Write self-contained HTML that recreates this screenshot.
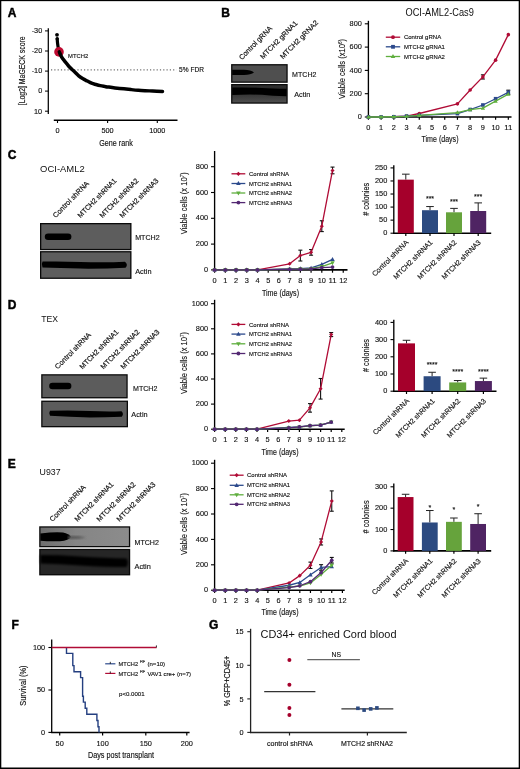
<!DOCTYPE html>
<html><head><meta charset="utf-8"><style>
html,body{margin:0;padding:0;background:#fff;width:520px;height:769px;overflow:hidden}
svg{display:block;font-family:"Liberation Sans", sans-serif;will-change:transform}
</style></head><body>
<svg width="520" height="769" viewBox="0 0 520 769">
<defs><filter id="bl" x="-5%" y="-20%" width="110%" height="140%"><feGaussianBlur stdDeviation="0.55"/></filter><filter id="bl2" x="-5%" y="-20%" width="110%" height="140%"><feGaussianBlur stdDeviation="0.9"/></filter></defs>
<rect x="0" y="0" width="520" height="769" fill="#fff"/>
<text x="7.8" y="17" font-size="12" fill="#000" font-weight="bold" stroke="#000" stroke-width="0.45">A</text>
<text x="221.2" y="17" font-size="12" fill="#000" font-weight="bold" stroke="#000" stroke-width="0.45">B</text>
<text x="7.8" y="159" font-size="12" fill="#000" font-weight="bold" stroke="#000" stroke-width="0.45">C</text>
<text x="7.8" y="308.7" font-size="12" fill="#000" font-weight="bold" stroke="#000" stroke-width="0.45">D</text>
<text x="7.8" y="468.2" font-size="12" fill="#000" font-weight="bold" stroke="#000" stroke-width="0.45">E</text>
<text x="11.5" y="629.2" font-size="12" fill="#000" font-weight="bold" stroke="#000" stroke-width="0.45">F</text>
<text x="209" y="629.3" font-size="12" fill="#000" font-weight="bold" stroke="#000" stroke-width="0.45">G</text>
<line x1="48.3" y1="28.2" x2="48.3" y2="113.9" stroke="#000" stroke-width="1.25"/>
<line x1="45" y1="30.9" x2="48.3" y2="30.9" stroke="#000" stroke-width="1"/>
<text x="42.2" y="33.2" font-size="7.3" text-anchor="end" fill="#111" stroke="#111" stroke-width="0.14">-30</text>
<line x1="45" y1="51" x2="48.3" y2="51" stroke="#000" stroke-width="1"/>
<text x="42.2" y="53.3" font-size="7.3" text-anchor="end" fill="#111" stroke="#111" stroke-width="0.14">-20</text>
<line x1="45" y1="71.1" x2="48.3" y2="71.1" stroke="#000" stroke-width="1"/>
<text x="42.2" y="73.4" font-size="7.3" text-anchor="end" fill="#111" stroke="#111" stroke-width="0.14">-10</text>
<line x1="45" y1="91.1" x2="48.3" y2="91.1" stroke="#000" stroke-width="1"/>
<text x="42.2" y="93.4" font-size="7.3" text-anchor="end" fill="#111" stroke="#111" stroke-width="0.14">0</text>
<line x1="45" y1="111.2" x2="48.3" y2="111.2" stroke="#000" stroke-width="1"/>
<text x="42.2" y="113.5" font-size="7.3" text-anchor="end" fill="#111" stroke="#111" stroke-width="0.14">10</text>
<text x="25.3" y="70.8" font-size="8.4" text-anchor="middle" fill="#111" transform="rotate(-90 25.3 70.8)" textLength="69" lengthAdjust="spacingAndGlyphs" stroke="#111" stroke-width="0.14">[Log2] MaGECK score</text>
<line x1="53.8" y1="120.2" x2="177.5" y2="120.2" stroke="#000" stroke-width="1.4"/>
<line x1="57.5" y1="120.2" x2="57.5" y2="123" stroke="#000" stroke-width="1.1"/>
<text x="57.5" y="133" font-size="7.3" text-anchor="middle" fill="#111" stroke="#111" stroke-width="0.14">0</text>
<line x1="107.6" y1="120.2" x2="107.6" y2="123" stroke="#000" stroke-width="1.1"/>
<text x="107.6" y="133" font-size="7.3" text-anchor="middle" fill="#111" stroke="#111" stroke-width="0.14">500</text>
<line x1="157.3" y1="120.2" x2="157.3" y2="123" stroke="#000" stroke-width="1.1"/>
<text x="157.3" y="133" font-size="7.3" text-anchor="middle" fill="#111" stroke="#111" stroke-width="0.14">1000</text>
<text x="116" y="145.6" font-size="8.6" text-anchor="middle" fill="#111" textLength="33.5" lengthAdjust="spacingAndGlyphs" stroke="#111" stroke-width="0.14">Gene rank</text>
<line x1="51" y1="69.8" x2="176.5" y2="69.8" stroke="#707070" stroke-width="1.2" stroke-dasharray="1.2 2.1"/>
<text x="179.1" y="71.9" font-size="6.7" fill="#111" textLength="24.9" lengthAdjust="spacingAndGlyphs" stroke="#111" stroke-width="0.14">5% FDR</text>
<path d="M57.2 39 C57.27 39.75 57.42 42 57.6 43.5 C57.78 45 58.02 46.6 58.3 48 C58.58 49.4 59.13 51.25 59.3 51.9" fill="none" stroke="#000" stroke-width="3.2" stroke-linecap="round" stroke-linejoin="round"/>
<circle cx="59" cy="51.9" r="4.8" fill="#bd0a30"/>
<path d="M59.3 51.9 C59.7 52.78 60.82 55.67 61.7 57.2 C62.58 58.73 63.63 59.87 64.6 61.1 C65.57 62.33 66.6 63.52 67.5 64.6 C68.4 65.68 68.87 66.45 70 67.6 C71.13 68.75 72.85 70.13 74.3 71.5 C75.75 72.87 77.25 74.58 78.7 75.8 C80.15 77.02 81.57 77.93 83 78.8 C84.43 79.67 85.87 80.27 87.3 81 C88.73 81.73 90.15 82.62 91.6 83.2 C93.05 83.78 94.55 84.1 96 84.5 C97.45 84.9 98.87 85.28 100.3 85.6 C101.73 85.92 103.17 86.15 104.6 86.4 C106.03 86.65 107.17 86.85 108.9 87.1 C110.63 87.35 112.5 87.62 115 87.9 C117.5 88.18 121.23 88.52 123.9 88.8 C126.57 89.08 128.6 89.35 131 89.6 C133.4 89.85 135.97 90.12 138.3 90.3 C140.63 90.48 142.6 90.58 145 90.7 C147.4 90.82 149.78 90.88 152.7 91 C155.62 91.12 160.87 91.33 162.5 91.4" fill="none" stroke="#000" stroke-width="3.5" stroke-linecap="round" stroke-linejoin="round"/>
<circle cx="57" cy="34.8" r="1.9" fill="#000"/>
<circle cx="57.2" cy="38.8" r="1.7" fill="#000"/>
<text x="68" y="57.5" font-size="6.1" fill="#111" textLength="20.2" lengthAdjust="spacingAndGlyphs" stroke="#111" stroke-width="0.14">MTCH2</text>
<defs><linearGradient id="gE" x1="0" x2="1" y1="0" y2="0"><stop offset="0" stop-color="#6e6e6e"/><stop offset="0.4" stop-color="#858585"/><stop offset="1" stop-color="#8c8c8c"/></linearGradient><linearGradient id="gBa" x1="0" x2="0" y1="0" y2="1"><stop offset="0" stop-color="#303030"/><stop offset="0.25" stop-color="#2a2a2a"/><stop offset="0.6" stop-color="#3a3a3a"/><stop offset="1" stop-color="#4e4e4e"/></linearGradient></defs>
<rect x="231.1" y="64.1" width="56.6" height="18.7" fill="#0a0a0a"/>
<rect x="232.4" y="65.4" width="54" height="16.1" fill="#4f4f4f"/>
<path d="M232.2 69.8 L244 69.8 Q251 70.2 254 72.4 Q251 74.6 244 75 L232.2 75 Z" fill="#050505" filter="url(#bl)"/>
<rect x="231.1" y="84" width="56.6" height="19.7" fill="#0a0a0a"/>
<rect x="232.4" y="85.3" width="54" height="17.1" fill="url(#gBa)"/>
<path d="M232.2 87.6 Q248 87.2 262 88 Q272 88.6 286.6 88.8 L286.6 96.2 Q272 96 262 94.8 Q248 94.3 232.2 95 Z" fill="#030303" filter="url(#bl)"/>
<text x="292.1" y="77.3" font-size="7.6" fill="#111" textLength="24.3" lengthAdjust="spacingAndGlyphs" stroke="#111" stroke-width="0.14">MTCH2</text>
<text x="294.3" y="96.9" font-size="7.6" fill="#111" textLength="16.1" lengthAdjust="spacingAndGlyphs" stroke="#111" stroke-width="0.14">Actin</text>
<text x="241.9" y="60.2" font-size="7.2" fill="#111" transform="rotate(-45.5 241.9 60.2)" textLength="43.8" lengthAdjust="spacingAndGlyphs" stroke="#111" stroke-width="0.18">Control gRNA</text>
<text x="263" y="59.4" font-size="7.2" fill="#111" transform="rotate(-45.5 263 59.4)" textLength="50" lengthAdjust="spacingAndGlyphs" stroke="#111" stroke-width="0.18">MTCH2 gRNA1</text>
<text x="283" y="59.4" font-size="7.2" fill="#111" transform="rotate(-45.5 283 59.4)" textLength="51" lengthAdjust="spacingAndGlyphs" stroke="#111" stroke-width="0.18">MTCH2 gRNA2</text>
<rect x="40" y="223" width="91.5" height="27.2" fill="#0a0a0a"/>
<rect x="41.3" y="224.3" width="88.9" height="24.6" fill="#5d5d5d"/>
<rect x="44.8" y="233.4" width="26.6" height="6.6" rx="3.3" fill="#050505" filter="url(#bl)"/>
<rect x="40" y="251.1" width="91.5" height="27.8" fill="#0a0a0a"/>
<rect x="41.3" y="252.4" width="88.9" height="25.2" fill="#5d5d5d"/>
<path d="M42.5 261.6 Q60 261 80 262 Q105 262.8 125 261.8 Q128.5 264.6 125.5 267.8 Q105 268.8 80 268.6 Q60 267.8 42.5 267.4 Q41 264.5 42.5 261.6 Z" fill="#050505" filter="url(#bl)"/>
<text x="135.2" y="240" font-size="7.2" fill="#111" textLength="24.4" lengthAdjust="spacingAndGlyphs" stroke="#111" stroke-width="0.14">MTCH2</text>
<text x="135.2" y="274" font-size="7.2" fill="#111" textLength="16.3" lengthAdjust="spacingAndGlyphs" stroke="#111" stroke-width="0.14">Actin</text>
<rect x="41.2" y="374.2" width="86.5" height="24.2" fill="#0a0a0a"/>
<rect x="42.5" y="375.5" width="83.9" height="21.6" fill="#5c5c5c"/>
<rect x="49.2" y="382.8" width="22.2" height="6.4" rx="3.2" fill="#050505" filter="url(#bl)"/>
<rect x="41.2" y="400.6" width="86.8" height="26.7" fill="#0a0a0a"/>
<rect x="42.5" y="401.9" width="84.2" height="24.1" fill="#5c5c5c"/>
<path d="M50 410.8 Q70 410 90 411 Q108 411.8 121.5 411.2 Q124.2 413.7 121.8 416.8 Q105 417.3 90 417.4 Q70 416.8 50 415.8 Q48.4 413.2 50 410.8 Z" fill="#050505" filter="url(#bl)"/>
<text x="133" y="390.7" font-size="7.2" fill="#111" textLength="24.4" lengthAdjust="spacingAndGlyphs" stroke="#111" stroke-width="0.14">MTCH2</text>
<text x="131.3" y="416.6" font-size="7.2" fill="#111" textLength="16.3" lengthAdjust="spacingAndGlyphs" stroke="#111" stroke-width="0.14">Actin</text>
<rect x="39.2" y="526.3" width="91" height="21" fill="#0a0a0a"/>
<rect x="40.5" y="527.6" width="88.4" height="18.4" fill="url(#gE)"/>
<path d="M40.4 533.5 Q55 531.8 63 532.6 Q69 534 71 537 Q69 540.5 60 541.2 Q50 541.6 40.4 540.8 Z" fill="#030303" filter="url(#bl)"/>
<path d="M68 536.2 Q78 535.8 86 537.4 Q78 539.2 68 539 Z" fill="#555" filter="url(#bl2)"/>
<rect x="39.2" y="548.8" width="91" height="26.6" fill="#0a0a0a"/>
<rect x="40.5" y="550.1" width="88.4" height="24" fill="#262626"/>
<path d="M40.4 555 Q60 555 80 556.4 Q105 558 126.5 558.5 Q129 562.5 126.5 567 Q105 567 80 565.5 Q60 563.8 40.4 563.5 Z" fill="#050505" filter="url(#bl2)"/>
<text x="134.5" y="544.5" font-size="7.2" fill="#111" textLength="24.4" lengthAdjust="spacingAndGlyphs" stroke="#111" stroke-width="0.14">MTCH2</text>
<text x="134.5" y="569" font-size="7.2" fill="#111" textLength="16.3" lengthAdjust="spacingAndGlyphs" stroke="#111" stroke-width="0.14">Actin</text>
<text x="55.8" y="218.2" font-size="7.2" fill="#111" transform="rotate(-45.5 55.8 218.2)" textLength="48" lengthAdjust="spacingAndGlyphs" stroke="#111" stroke-width="0.18">Control shRNA</text>
<text x="80.6" y="218.2" font-size="7.2" fill="#111" transform="rotate(-45.5 80.6 218.2)" textLength="52" lengthAdjust="spacingAndGlyphs" stroke="#111" stroke-width="0.18">MTCH2 shRNA1</text>
<text x="102.6" y="218.2" font-size="7.2" fill="#111" transform="rotate(-45.5 102.6 218.2)" textLength="52" lengthAdjust="spacingAndGlyphs" stroke="#111" stroke-width="0.18">MTCH2 shRNA2</text>
<text x="122.6" y="218.2" font-size="7.2" fill="#111" transform="rotate(-45.5 122.6 218.2)" textLength="52" lengthAdjust="spacingAndGlyphs" stroke="#111" stroke-width="0.18">MTCH2 shRNA3</text>
<text x="57.8" y="369.5" font-size="7.2" fill="#111" transform="rotate(-45.5 57.8 369.5)" textLength="48" lengthAdjust="spacingAndGlyphs" stroke="#111" stroke-width="0.18">Control shRNA</text>
<text x="82.6" y="369.5" font-size="7.2" fill="#111" transform="rotate(-45.5 82.6 369.5)" textLength="52" lengthAdjust="spacingAndGlyphs" stroke="#111" stroke-width="0.18">MTCH2 shRNA1</text>
<text x="103.6" y="369.5" font-size="7.2" fill="#111" transform="rotate(-45.5 103.6 369.5)" textLength="52" lengthAdjust="spacingAndGlyphs" stroke="#111" stroke-width="0.18">MTCH2 shRNA2</text>
<text x="123.6" y="369.5" font-size="7.2" fill="#111" transform="rotate(-45.5 123.6 369.5)" textLength="52" lengthAdjust="spacingAndGlyphs" stroke="#111" stroke-width="0.18">MTCH2 shRNA3</text>
<text x="52.6" y="522" font-size="7.2" fill="#111" transform="rotate(-45.5 52.6 522)" textLength="48" lengthAdjust="spacingAndGlyphs" stroke="#111" stroke-width="0.18">Control shRNA</text>
<text x="77.6" y="522" font-size="7.2" fill="#111" transform="rotate(-45.5 77.6 522)" textLength="52" lengthAdjust="spacingAndGlyphs" stroke="#111" stroke-width="0.18">MTCH2 shRNA1</text>
<text x="99.6" y="522" font-size="7.2" fill="#111" transform="rotate(-45.5 99.6 522)" textLength="52" lengthAdjust="spacingAndGlyphs" stroke="#111" stroke-width="0.18">MTCH2 shRNA2</text>
<text x="119.6" y="522" font-size="7.2" fill="#111" transform="rotate(-45.5 119.6 522)" textLength="52" lengthAdjust="spacingAndGlyphs" stroke="#111" stroke-width="0.18">MTCH2 shRNA3</text>
<text x="40.1" y="171.6" font-size="9.9" fill="#111" textLength="44.6" lengthAdjust="spacingAndGlyphs">OCI-AML2</text>
<text x="41.3" y="322.4" font-size="9.9" fill="#111" textLength="16.8" lengthAdjust="spacingAndGlyphs">TEX</text>
<text x="39.6" y="474.9" font-size="9.9" fill="#111" textLength="21" lengthAdjust="spacingAndGlyphs">U937</text>
<line x1="368.4" y1="117.7" x2="368.4" y2="20.8" stroke="#000" stroke-width="1.35"/>
<line x1="367.8" y1="117" x2="511.5" y2="117" stroke="#000" stroke-width="1.6"/>
<line x1="364.8" y1="117" x2="368.4" y2="117" stroke="#000" stroke-width="1.1"/>
<text x="361.9" y="119.1" font-size="8" text-anchor="end" fill="#111" textLength="4.1" lengthAdjust="spacingAndGlyphs" stroke="#111" stroke-width="0.14">0</text>
<line x1="364.8" y1="93.7" x2="368.4" y2="93.7" stroke="#000" stroke-width="1.1"/>
<text x="361.9" y="95.8" font-size="8" text-anchor="end" fill="#111" textLength="12.3" lengthAdjust="spacingAndGlyphs" stroke="#111" stroke-width="0.14">200</text>
<line x1="364.8" y1="70.4" x2="368.4" y2="70.4" stroke="#000" stroke-width="1.1"/>
<text x="361.9" y="72.5" font-size="8" text-anchor="end" fill="#111" textLength="12.3" lengthAdjust="spacingAndGlyphs" stroke="#111" stroke-width="0.14">400</text>
<line x1="364.8" y1="47.1" x2="368.4" y2="47.1" stroke="#000" stroke-width="1.1"/>
<text x="361.9" y="49.2" font-size="8" text-anchor="end" fill="#111" textLength="12.3" lengthAdjust="spacingAndGlyphs" stroke="#111" stroke-width="0.14">600</text>
<line x1="364.8" y1="23.8" x2="368.4" y2="23.8" stroke="#000" stroke-width="1.1"/>
<text x="361.9" y="25.9" font-size="8" text-anchor="end" fill="#111" textLength="12.3" lengthAdjust="spacingAndGlyphs" stroke="#111" stroke-width="0.14">800</text>
<line x1="368.4" y1="117" x2="368.4" y2="119.8" stroke="#000" stroke-width="1.2"/>
<text x="368.4" y="129.6" font-size="8" text-anchor="middle" fill="#111" textLength="4.1" lengthAdjust="spacingAndGlyphs" stroke="#111" stroke-width="0.14">0</text>
<line x1="381.12" y1="117" x2="381.12" y2="119.8" stroke="#000" stroke-width="1.2"/>
<text x="381.12" y="129.6" font-size="8" text-anchor="middle" fill="#111" textLength="4.1" lengthAdjust="spacingAndGlyphs" stroke="#111" stroke-width="0.14">1</text>
<line x1="393.84" y1="117" x2="393.84" y2="119.8" stroke="#000" stroke-width="1.2"/>
<text x="393.84" y="129.6" font-size="8" text-anchor="middle" fill="#111" textLength="4.1" lengthAdjust="spacingAndGlyphs" stroke="#111" stroke-width="0.14">2</text>
<line x1="406.56" y1="117" x2="406.56" y2="119.8" stroke="#000" stroke-width="1.2"/>
<text x="406.56" y="129.6" font-size="8" text-anchor="middle" fill="#111" textLength="4.1" lengthAdjust="spacingAndGlyphs" stroke="#111" stroke-width="0.14">3</text>
<line x1="419.28" y1="117" x2="419.28" y2="119.8" stroke="#000" stroke-width="1.2"/>
<text x="419.28" y="129.6" font-size="8" text-anchor="middle" fill="#111" textLength="4.1" lengthAdjust="spacingAndGlyphs" stroke="#111" stroke-width="0.14">4</text>
<line x1="432" y1="117" x2="432" y2="119.8" stroke="#000" stroke-width="1.2"/>
<text x="432" y="129.6" font-size="8" text-anchor="middle" fill="#111" textLength="4.1" lengthAdjust="spacingAndGlyphs" stroke="#111" stroke-width="0.14">5</text>
<line x1="444.72" y1="117" x2="444.72" y2="119.8" stroke="#000" stroke-width="1.2"/>
<text x="444.72" y="129.6" font-size="8" text-anchor="middle" fill="#111" textLength="4.1" lengthAdjust="spacingAndGlyphs" stroke="#111" stroke-width="0.14">6</text>
<line x1="457.44" y1="117" x2="457.44" y2="119.8" stroke="#000" stroke-width="1.2"/>
<text x="457.44" y="129.6" font-size="8" text-anchor="middle" fill="#111" textLength="4.1" lengthAdjust="spacingAndGlyphs" stroke="#111" stroke-width="0.14">7</text>
<line x1="470.16" y1="117" x2="470.16" y2="119.8" stroke="#000" stroke-width="1.2"/>
<text x="470.16" y="129.6" font-size="8" text-anchor="middle" fill="#111" textLength="4.1" lengthAdjust="spacingAndGlyphs" stroke="#111" stroke-width="0.14">8</text>
<line x1="482.88" y1="117" x2="482.88" y2="119.8" stroke="#000" stroke-width="1.2"/>
<text x="482.88" y="129.6" font-size="8" text-anchor="middle" fill="#111" textLength="4.1" lengthAdjust="spacingAndGlyphs" stroke="#111" stroke-width="0.14">9</text>
<line x1="495.6" y1="117" x2="495.6" y2="119.8" stroke="#000" stroke-width="1.2"/>
<text x="495.6" y="129.6" font-size="8" text-anchor="middle" fill="#111" textLength="8.2" lengthAdjust="spacingAndGlyphs" stroke="#111" stroke-width="0.14">10</text>
<line x1="508.32" y1="117" x2="508.32" y2="119.8" stroke="#000" stroke-width="1.2"/>
<text x="508.32" y="129.6" font-size="8" text-anchor="middle" fill="#111" textLength="8.2" lengthAdjust="spacingAndGlyphs" stroke="#111" stroke-width="0.14">11</text>
<line x1="482.88" y1="74.83" x2="482.88" y2="79.02" stroke="#111" stroke-width="1.1"/>
<line x1="480.88" y1="74.83" x2="484.88" y2="74.83" stroke="#111" stroke-width="1.1"/>
<line x1="480.88" y1="79.02" x2="484.88" y2="79.02" stroke="#111" stroke-width="1.1"/>
<polyline points="368.4,117 381.12,117 393.84,116.77 406.56,116.07 419.28,113.5 457.44,103.84 470.16,89.97 482.88,76.92 495.6,60.15 508.32,34.63" fill="none" stroke="#b00c36" stroke-width="1.3" stroke-linejoin="round"/>
<circle cx="368.4" cy="117" r="1.8" fill="#b00c36"/>
<circle cx="381.12" cy="117" r="1.8" fill="#b00c36"/>
<circle cx="393.84" cy="116.77" r="1.8" fill="#b00c36"/>
<circle cx="406.56" cy="116.07" r="1.8" fill="#b00c36"/>
<circle cx="419.28" cy="113.5" r="1.8" fill="#b00c36"/>
<circle cx="457.44" cy="103.84" r="1.8" fill="#b00c36"/>
<circle cx="470.16" cy="89.97" r="1.8" fill="#b00c36"/>
<circle cx="482.88" cy="76.92" r="1.8" fill="#b00c36"/>
<circle cx="495.6" cy="60.15" r="1.8" fill="#b00c36"/>
<circle cx="508.32" cy="34.63" r="1.8" fill="#b00c36"/>
<line x1="508.32" y1="90.2" x2="508.32" y2="94.4" stroke="#111" stroke-width="1.1"/>
<line x1="506.32" y1="90.2" x2="510.32" y2="90.2" stroke="#111" stroke-width="1.1"/>
<line x1="506.32" y1="94.4" x2="510.32" y2="94.4" stroke="#111" stroke-width="1.1"/>
<polyline points="368.4,117 381.12,117 393.84,116.77 406.56,116.07 419.28,115.37 457.44,113.62 470.16,109.54 482.88,105 495.6,98.71 508.32,92.3" fill="none" stroke="#2c4a8c" stroke-width="1.3" stroke-linejoin="round"/>
<rect x="366.6" y="115.2" width="3.6" height="3.6" fill="#2c4a8c"/>
<rect x="379.32" y="115.2" width="3.6" height="3.6" fill="#2c4a8c"/>
<rect x="392.04" y="114.97" width="3.6" height="3.6" fill="#2c4a8c"/>
<rect x="404.76" y="114.27" width="3.6" height="3.6" fill="#2c4a8c"/>
<rect x="417.48" y="113.57" width="3.6" height="3.6" fill="#2c4a8c"/>
<rect x="455.64" y="111.82" width="3.6" height="3.6" fill="#2c4a8c"/>
<rect x="468.36" y="107.74" width="3.6" height="3.6" fill="#2c4a8c"/>
<rect x="481.08" y="103.2" width="3.6" height="3.6" fill="#2c4a8c"/>
<rect x="493.8" y="96.91" width="3.6" height="3.6" fill="#2c4a8c"/>
<rect x="506.52" y="90.5" width="3.6" height="3.6" fill="#2c4a8c"/>
<polyline points="368.4,117 381.12,117 393.84,116.77 406.56,116.3 419.28,115.37 457.44,112.57 470.16,109.66 482.88,108.15 495.6,101.16 508.32,94.17" fill="none" stroke="#5fae3e" stroke-width="1.3" stroke-linejoin="round"/>
<polygon points="368.4,114.75 366.24,118.53 370.56,118.53" fill="#5fae3e"/>
<polygon points="381.12,114.75 378.96,118.53 383.28,118.53" fill="#5fae3e"/>
<polygon points="393.84,114.52 391.68,118.3 396,118.3" fill="#5fae3e"/>
<polygon points="406.56,114.05 404.4,117.83 408.72,117.83" fill="#5fae3e"/>
<polygon points="419.28,113.12 417.12,116.9 421.44,116.9" fill="#5fae3e"/>
<polygon points="457.44,110.32 455.28,114.1 459.6,114.1" fill="#5fae3e"/>
<polygon points="470.16,107.41 468,111.19 472.32,111.19" fill="#5fae3e"/>
<polygon points="482.88,105.9 480.72,109.68 485.04,109.68" fill="#5fae3e"/>
<polygon points="495.6,98.91 493.44,102.69 497.76,102.69" fill="#5fae3e"/>
<polygon points="508.32,91.92 506.16,95.7 510.48,95.7" fill="#5fae3e"/>
<line x1="385.8" y1="37.2" x2="400.2" y2="37.2" stroke="#b00c36" stroke-width="1.3"/>
<circle cx="393" cy="37.2" r="1.9" fill="#b00c36"/>
<text x="403.9" y="39.3" font-size="6" fill="#111" textLength="37.3" lengthAdjust="spacingAndGlyphs" stroke="#111" stroke-width="0.14">Control gRNA</text>
<line x1="385.8" y1="46.8" x2="400.2" y2="46.8" stroke="#2c4a8c" stroke-width="1.3"/>
<rect x="391.1" y="44.9" width="3.8" height="3.8" fill="#2c4a8c"/>
<text x="403.9" y="48.9" font-size="6" fill="#111" textLength="41" lengthAdjust="spacingAndGlyphs" stroke="#111" stroke-width="0.14">MTCH2 gRNA1</text>
<line x1="385.8" y1="56.5" x2="400.2" y2="56.5" stroke="#5fae3e" stroke-width="1.3"/>
<polygon points="393,54.12 390.72,58.12 395.28,58.12" fill="#5fae3e"/>
<text x="403.9" y="58.6" font-size="6" fill="#111" textLength="41" lengthAdjust="spacingAndGlyphs" stroke="#111" stroke-width="0.14">MTCH2 gRNA2</text>
<text x="440" y="142.2" font-size="9" text-anchor="middle" fill="#111" textLength="37" lengthAdjust="spacingAndGlyphs" stroke="#111" stroke-width="0.14">Time (days)</text>
<text x="345.3" y="69" font-size="9.1" text-anchor="middle" fill="#111" stroke="#111" stroke-width="0.12" transform="rotate(-90 345.3 69)" textLength="60" lengthAdjust="spacingAndGlyphs">Viable cells (x10<tspan font-size="5.5" dy="-3.5">6</tspan><tspan dy="3.5">)</tspan></text>
<text x="405.5" y="15.8" font-size="10.4" fill="#111" textLength="68.3" lengthAdjust="spacingAndGlyphs">OCI-AML2-Cas9</text>
<line x1="214.6" y1="270.6" x2="214.6" y2="151" stroke="#000" stroke-width="1.35"/>
<line x1="214" y1="269.9" x2="347.5" y2="269.9" stroke="#000" stroke-width="1.6"/>
<line x1="211" y1="269.9" x2="214.6" y2="269.9" stroke="#000" stroke-width="1.1"/>
<text x="208.1" y="272" font-size="8" text-anchor="end" fill="#111" textLength="4.1" lengthAdjust="spacingAndGlyphs" stroke="#111" stroke-width="0.14">0</text>
<line x1="211" y1="244.1" x2="214.6" y2="244.1" stroke="#000" stroke-width="1.1"/>
<text x="208.1" y="246.2" font-size="8" text-anchor="end" fill="#111" textLength="12.3" lengthAdjust="spacingAndGlyphs" stroke="#111" stroke-width="0.14">200</text>
<line x1="211" y1="218.3" x2="214.6" y2="218.3" stroke="#000" stroke-width="1.1"/>
<text x="208.1" y="220.4" font-size="8" text-anchor="end" fill="#111" textLength="12.3" lengthAdjust="spacingAndGlyphs" stroke="#111" stroke-width="0.14">400</text>
<line x1="211" y1="192.5" x2="214.6" y2="192.5" stroke="#000" stroke-width="1.1"/>
<text x="208.1" y="194.6" font-size="8" text-anchor="end" fill="#111" textLength="12.3" lengthAdjust="spacingAndGlyphs" stroke="#111" stroke-width="0.14">600</text>
<line x1="211" y1="166.7" x2="214.6" y2="166.7" stroke="#000" stroke-width="1.1"/>
<text x="208.1" y="168.8" font-size="8" text-anchor="end" fill="#111" textLength="12.3" lengthAdjust="spacingAndGlyphs" stroke="#111" stroke-width="0.14">800</text>
<line x1="214.6" y1="269.9" x2="214.6" y2="272.7" stroke="#000" stroke-width="1.2"/>
<text x="214.6" y="282.7" font-size="8" text-anchor="middle" fill="#111" textLength="4.1" lengthAdjust="spacingAndGlyphs" stroke="#111" stroke-width="0.14">0</text>
<line x1="225.32" y1="269.9" x2="225.32" y2="272.7" stroke="#000" stroke-width="1.2"/>
<text x="225.32" y="282.7" font-size="8" text-anchor="middle" fill="#111" textLength="4.1" lengthAdjust="spacingAndGlyphs" stroke="#111" stroke-width="0.14">1</text>
<line x1="236.04" y1="269.9" x2="236.04" y2="272.7" stroke="#000" stroke-width="1.2"/>
<text x="236.04" y="282.7" font-size="8" text-anchor="middle" fill="#111" textLength="4.1" lengthAdjust="spacingAndGlyphs" stroke="#111" stroke-width="0.14">2</text>
<line x1="246.76" y1="269.9" x2="246.76" y2="272.7" stroke="#000" stroke-width="1.2"/>
<text x="246.76" y="282.7" font-size="8" text-anchor="middle" fill="#111" textLength="4.1" lengthAdjust="spacingAndGlyphs" stroke="#111" stroke-width="0.14">3</text>
<line x1="257.48" y1="269.9" x2="257.48" y2="272.7" stroke="#000" stroke-width="1.2"/>
<text x="257.48" y="282.7" font-size="8" text-anchor="middle" fill="#111" textLength="4.1" lengthAdjust="spacingAndGlyphs" stroke="#111" stroke-width="0.14">4</text>
<line x1="268.2" y1="269.9" x2="268.2" y2="272.7" stroke="#000" stroke-width="1.2"/>
<text x="268.2" y="282.7" font-size="8" text-anchor="middle" fill="#111" textLength="4.1" lengthAdjust="spacingAndGlyphs" stroke="#111" stroke-width="0.14">5</text>
<line x1="278.92" y1="269.9" x2="278.92" y2="272.7" stroke="#000" stroke-width="1.2"/>
<text x="278.92" y="282.7" font-size="8" text-anchor="middle" fill="#111" textLength="4.1" lengthAdjust="spacingAndGlyphs" stroke="#111" stroke-width="0.14">6</text>
<line x1="289.64" y1="269.9" x2="289.64" y2="272.7" stroke="#000" stroke-width="1.2"/>
<text x="289.64" y="282.7" font-size="8" text-anchor="middle" fill="#111" textLength="4.1" lengthAdjust="spacingAndGlyphs" stroke="#111" stroke-width="0.14">7</text>
<line x1="300.36" y1="269.9" x2="300.36" y2="272.7" stroke="#000" stroke-width="1.2"/>
<text x="300.36" y="282.7" font-size="8" text-anchor="middle" fill="#111" textLength="4.1" lengthAdjust="spacingAndGlyphs" stroke="#111" stroke-width="0.14">8</text>
<line x1="311.08" y1="269.9" x2="311.08" y2="272.7" stroke="#000" stroke-width="1.2"/>
<text x="311.08" y="282.7" font-size="8" text-anchor="middle" fill="#111" textLength="4.1" lengthAdjust="spacingAndGlyphs" stroke="#111" stroke-width="0.14">9</text>
<line x1="321.8" y1="269.9" x2="321.8" y2="272.7" stroke="#000" stroke-width="1.2"/>
<text x="321.8" y="282.7" font-size="8" text-anchor="middle" fill="#111" textLength="8.2" lengthAdjust="spacingAndGlyphs" stroke="#111" stroke-width="0.14">10</text>
<line x1="332.52" y1="269.9" x2="332.52" y2="272.7" stroke="#000" stroke-width="1.2"/>
<text x="332.52" y="282.7" font-size="8" text-anchor="middle" fill="#111" textLength="8.2" lengthAdjust="spacingAndGlyphs" stroke="#111" stroke-width="0.14">11</text>
<line x1="343.24" y1="269.9" x2="343.24" y2="272.7" stroke="#000" stroke-width="1.2"/>
<text x="343.24" y="282.7" font-size="8" text-anchor="middle" fill="#111" textLength="8.2" lengthAdjust="spacingAndGlyphs" stroke="#111" stroke-width="0.14">12</text>
<line x1="300.36" y1="250.16" x2="300.36" y2="261" stroke="#111" stroke-width="1.1"/>
<line x1="298.36" y1="250.16" x2="302.36" y2="250.16" stroke="#111" stroke-width="1.1"/>
<line x1="298.36" y1="261" x2="302.36" y2="261" stroke="#111" stroke-width="1.1"/>
<line x1="311.08" y1="249.52" x2="311.08" y2="255.19" stroke="#111" stroke-width="1.1"/>
<line x1="309.08" y1="249.52" x2="313.08" y2="249.52" stroke="#111" stroke-width="1.1"/>
<line x1="309.08" y1="255.19" x2="313.08" y2="255.19" stroke="#111" stroke-width="1.1"/>
<line x1="321.8" y1="220.75" x2="321.8" y2="231.59" stroke="#111" stroke-width="1.1"/>
<line x1="319.8" y1="220.75" x2="323.8" y2="220.75" stroke="#111" stroke-width="1.1"/>
<line x1="319.8" y1="231.59" x2="323.8" y2="231.59" stroke="#111" stroke-width="1.1"/>
<line x1="332.52" y1="167.09" x2="332.52" y2="173.79" stroke="#111" stroke-width="1.1"/>
<line x1="330.52" y1="167.09" x2="334.52" y2="167.09" stroke="#111" stroke-width="1.1"/>
<line x1="330.52" y1="173.79" x2="334.52" y2="173.79" stroke="#111" stroke-width="1.1"/>
<polyline points="214.6,269.9 225.32,269.9 236.04,269.9 246.76,269.9 257.48,269.9 289.64,263.84 300.36,255.58 311.08,252.36 321.8,226.17 332.52,170.44" fill="none" stroke="#b00c36" stroke-width="1.3" stroke-linejoin="round"/>
<polygon points="214.6,267.86 216.63,269.9 214.6,271.94 212.56,269.9" fill="#b00c36"/>
<polygon points="225.32,267.86 227.35,269.9 225.32,271.94 223.28,269.9" fill="#b00c36"/>
<polygon points="236.04,267.86 238.07,269.9 236.04,271.94 234,269.9" fill="#b00c36"/>
<polygon points="246.76,267.86 248.79,269.9 246.76,271.94 244.72,269.9" fill="#b00c36"/>
<polygon points="257.48,267.86 259.52,269.9 257.48,271.94 255.45,269.9" fill="#b00c36"/>
<polygon points="289.64,261.8 291.68,263.84 289.64,265.87 287.6,263.84" fill="#b00c36"/>
<polygon points="300.36,253.55 302.4,255.58 300.36,257.62 298.32,255.58" fill="#b00c36"/>
<polygon points="311.08,250.32 313.12,252.36 311.08,254.39 309.04,252.36" fill="#b00c36"/>
<polygon points="321.8,224.13 323.84,226.17 321.8,228.2 319.76,226.17" fill="#b00c36"/>
<polygon points="332.52,168.41 334.56,170.44 332.52,172.48 330.48,170.44" fill="#b00c36"/>
<polyline points="214.6,269.9 225.32,269.9 236.04,269.9 246.76,269.9 257.48,269.9 289.64,268.87 300.36,268.61 311.08,267.96 321.8,264.35 332.52,259.32" fill="none" stroke="#2c4a8c" stroke-width="1.3" stroke-linejoin="round"/>
<polygon points="214.6,267.59 212.38,271.47 216.82,271.47" fill="#2c4a8c"/>
<polygon points="225.32,267.59 223.1,271.47 227.54,271.47" fill="#2c4a8c"/>
<polygon points="236.04,267.59 233.82,271.47 238.26,271.47" fill="#2c4a8c"/>
<polygon points="246.76,267.59 244.54,271.47 248.98,271.47" fill="#2c4a8c"/>
<polygon points="257.48,267.59 255.26,271.47 259.7,271.47" fill="#2c4a8c"/>
<polygon points="289.64,266.56 287.42,270.44 291.86,270.44" fill="#2c4a8c"/>
<polygon points="300.36,266.3 298.14,270.18 302.58,270.18" fill="#2c4a8c"/>
<polygon points="311.08,265.65 308.86,269.54 313.3,269.54" fill="#2c4a8c"/>
<polygon points="321.8,262.04 319.58,265.93 324.02,265.93" fill="#2c4a8c"/>
<polygon points="332.52,257.01 330.3,260.89 334.74,260.89" fill="#2c4a8c"/>
<polyline points="214.6,269.9 225.32,269.9 236.04,269.9 246.76,269.9 257.48,269.9 289.64,269.25 300.36,268.87 311.08,268.61 321.8,266.67 332.52,262.93" fill="none" stroke="#5fae3e" stroke-width="1.3" stroke-linejoin="round"/>
<polygon points="214.6,272.21 212.38,268.33 216.82,268.33" fill="#5fae3e"/>
<polygon points="225.32,272.21 223.1,268.33 227.54,268.33" fill="#5fae3e"/>
<polygon points="236.04,272.21 233.82,268.33 238.26,268.33" fill="#5fae3e"/>
<polygon points="246.76,272.21 244.54,268.33 248.98,268.33" fill="#5fae3e"/>
<polygon points="257.48,272.21 255.26,268.33 259.7,268.33" fill="#5fae3e"/>
<polygon points="289.64,271.57 287.42,267.68 291.86,267.68" fill="#5fae3e"/>
<polygon points="300.36,271.18 298.14,267.3 302.58,267.3" fill="#5fae3e"/>
<polygon points="311.08,270.92 308.86,267.04 313.3,267.04" fill="#5fae3e"/>
<polygon points="321.8,268.99 319.58,265.1 324.02,265.1" fill="#5fae3e"/>
<polygon points="332.52,265.25 330.3,261.36 334.74,261.36" fill="#5fae3e"/>
<polyline points="214.6,269.9 225.32,269.9 236.04,269.9 246.76,269.9 257.48,269.9 289.64,269.25 300.36,269.13 311.08,268.87 321.8,267.58 332.52,267.06" fill="none" stroke="#532872" stroke-width="1.3" stroke-linejoin="round"/>
<circle cx="214.6" cy="269.9" r="1.85" fill="#532872"/>
<circle cx="225.32" cy="269.9" r="1.85" fill="#532872"/>
<circle cx="236.04" cy="269.9" r="1.85" fill="#532872"/>
<circle cx="246.76" cy="269.9" r="1.85" fill="#532872"/>
<circle cx="257.48" cy="269.9" r="1.85" fill="#532872"/>
<circle cx="289.64" cy="269.25" r="1.85" fill="#532872"/>
<circle cx="300.36" cy="269.13" r="1.85" fill="#532872"/>
<circle cx="311.08" cy="268.87" r="1.85" fill="#532872"/>
<circle cx="321.8" cy="267.58" r="1.85" fill="#532872"/>
<circle cx="332.52" cy="267.06" r="1.85" fill="#532872"/>
<line x1="231.5" y1="173.8" x2="245.3" y2="173.8" stroke="#b00c36" stroke-width="1.3"/>
<polygon points="238.4,171.71 240.49,173.8 238.4,175.89 236.31,173.8" fill="#b00c36"/>
<text x="249" y="175.9" font-size="6.2" fill="#111" textLength="40" lengthAdjust="spacingAndGlyphs" stroke="#111" stroke-width="0.14">Control shRNA</text>
<line x1="231.5" y1="183.5" x2="245.3" y2="183.5" stroke="#2c4a8c" stroke-width="1.3"/>
<polygon points="238.4,181.12 236.12,185.12 240.68,185.12" fill="#2c4a8c"/>
<text x="249" y="185.6" font-size="6.2" fill="#111" textLength="43" lengthAdjust="spacingAndGlyphs" stroke="#111" stroke-width="0.14">MTCH2 shRNA1</text>
<line x1="231.5" y1="193" x2="245.3" y2="193" stroke="#5fae3e" stroke-width="1.3"/>
<polygon points="238.4,195.38 236.12,191.38 240.68,191.38" fill="#5fae3e"/>
<text x="249" y="195.1" font-size="6.2" fill="#111" textLength="43" lengthAdjust="spacingAndGlyphs" stroke="#111" stroke-width="0.14">MTCH2 shRNA2</text>
<line x1="231.5" y1="202.6" x2="245.3" y2="202.6" stroke="#532872" stroke-width="1.3"/>
<circle cx="238.4" cy="202.6" r="1.9" fill="#532872"/>
<text x="249" y="204.7" font-size="6.2" fill="#111" textLength="43" lengthAdjust="spacingAndGlyphs" stroke="#111" stroke-width="0.14">MTCH2 shRNA3</text>
<text x="280.5" y="295.6" font-size="9" text-anchor="middle" fill="#111" textLength="37" lengthAdjust="spacingAndGlyphs" stroke="#111" stroke-width="0.14">Time (days)</text>
<text x="187.2" y="203.3" font-size="9.1" text-anchor="middle" fill="#111" stroke="#111" stroke-width="0.12" transform="rotate(-90 187.2 203.3)" textLength="62" lengthAdjust="spacingAndGlyphs">Viable cells (x 10<tspan font-size="5.5" dy="-3.5">7</tspan><tspan dy="3.5">)</tspan></text>
<line x1="214.6" y1="429.9" x2="214.6" y2="299.8" stroke="#000" stroke-width="1.35"/>
<line x1="214" y1="429.2" x2="344.7" y2="429.2" stroke="#000" stroke-width="1.6"/>
<line x1="211" y1="429.2" x2="214.6" y2="429.2" stroke="#000" stroke-width="1.1"/>
<text x="208.1" y="431.3" font-size="8" text-anchor="end" fill="#111" textLength="4.1" lengthAdjust="spacingAndGlyphs" stroke="#111" stroke-width="0.14">0</text>
<line x1="211" y1="404.1" x2="214.6" y2="404.1" stroke="#000" stroke-width="1.1"/>
<text x="208.1" y="406.2" font-size="8" text-anchor="end" fill="#111" textLength="12.3" lengthAdjust="spacingAndGlyphs" stroke="#111" stroke-width="0.14">200</text>
<line x1="211" y1="379" x2="214.6" y2="379" stroke="#000" stroke-width="1.1"/>
<text x="208.1" y="381.1" font-size="8" text-anchor="end" fill="#111" textLength="12.3" lengthAdjust="spacingAndGlyphs" stroke="#111" stroke-width="0.14">400</text>
<line x1="211" y1="353.9" x2="214.6" y2="353.9" stroke="#000" stroke-width="1.1"/>
<text x="208.1" y="356" font-size="8" text-anchor="end" fill="#111" textLength="12.3" lengthAdjust="spacingAndGlyphs" stroke="#111" stroke-width="0.14">600</text>
<line x1="211" y1="328.8" x2="214.6" y2="328.8" stroke="#000" stroke-width="1.1"/>
<text x="208.1" y="330.9" font-size="8" text-anchor="end" fill="#111" textLength="12.3" lengthAdjust="spacingAndGlyphs" stroke="#111" stroke-width="0.14">800</text>
<line x1="211" y1="303.7" x2="214.6" y2="303.7" stroke="#000" stroke-width="1.1"/>
<text x="208.1" y="305.8" font-size="8" text-anchor="end" fill="#111" textLength="16.4" lengthAdjust="spacingAndGlyphs" stroke="#111" stroke-width="0.14">1000</text>
<line x1="214.6" y1="429.2" x2="214.6" y2="432" stroke="#000" stroke-width="1.2"/>
<text x="214.6" y="442" font-size="8" text-anchor="middle" fill="#111" textLength="4.1" lengthAdjust="spacingAndGlyphs" stroke="#111" stroke-width="0.14">0</text>
<line x1="225.2" y1="429.2" x2="225.2" y2="432" stroke="#000" stroke-width="1.2"/>
<text x="225.2" y="442" font-size="8" text-anchor="middle" fill="#111" textLength="4.1" lengthAdjust="spacingAndGlyphs" stroke="#111" stroke-width="0.14">1</text>
<line x1="235.8" y1="429.2" x2="235.8" y2="432" stroke="#000" stroke-width="1.2"/>
<text x="235.8" y="442" font-size="8" text-anchor="middle" fill="#111" textLength="4.1" lengthAdjust="spacingAndGlyphs" stroke="#111" stroke-width="0.14">2</text>
<line x1="246.4" y1="429.2" x2="246.4" y2="432" stroke="#000" stroke-width="1.2"/>
<text x="246.4" y="442" font-size="8" text-anchor="middle" fill="#111" textLength="4.1" lengthAdjust="spacingAndGlyphs" stroke="#111" stroke-width="0.14">3</text>
<line x1="257" y1="429.2" x2="257" y2="432" stroke="#000" stroke-width="1.2"/>
<text x="257" y="442" font-size="8" text-anchor="middle" fill="#111" textLength="4.1" lengthAdjust="spacingAndGlyphs" stroke="#111" stroke-width="0.14">4</text>
<line x1="267.6" y1="429.2" x2="267.6" y2="432" stroke="#000" stroke-width="1.2"/>
<text x="267.6" y="442" font-size="8" text-anchor="middle" fill="#111" textLength="4.1" lengthAdjust="spacingAndGlyphs" stroke="#111" stroke-width="0.14">5</text>
<line x1="278.2" y1="429.2" x2="278.2" y2="432" stroke="#000" stroke-width="1.2"/>
<text x="278.2" y="442" font-size="8" text-anchor="middle" fill="#111" textLength="4.1" lengthAdjust="spacingAndGlyphs" stroke="#111" stroke-width="0.14">6</text>
<line x1="288.8" y1="429.2" x2="288.8" y2="432" stroke="#000" stroke-width="1.2"/>
<text x="288.8" y="442" font-size="8" text-anchor="middle" fill="#111" textLength="4.1" lengthAdjust="spacingAndGlyphs" stroke="#111" stroke-width="0.14">7</text>
<line x1="299.4" y1="429.2" x2="299.4" y2="432" stroke="#000" stroke-width="1.2"/>
<text x="299.4" y="442" font-size="8" text-anchor="middle" fill="#111" textLength="4.1" lengthAdjust="spacingAndGlyphs" stroke="#111" stroke-width="0.14">8</text>
<line x1="310" y1="429.2" x2="310" y2="432" stroke="#000" stroke-width="1.2"/>
<text x="310" y="442" font-size="8" text-anchor="middle" fill="#111" textLength="4.1" lengthAdjust="spacingAndGlyphs" stroke="#111" stroke-width="0.14">9</text>
<line x1="320.6" y1="429.2" x2="320.6" y2="432" stroke="#000" stroke-width="1.2"/>
<text x="320.6" y="442" font-size="8" text-anchor="middle" fill="#111" textLength="8.2" lengthAdjust="spacingAndGlyphs" stroke="#111" stroke-width="0.14">10</text>
<line x1="331.2" y1="429.2" x2="331.2" y2="432" stroke="#000" stroke-width="1.2"/>
<text x="331.2" y="442" font-size="8" text-anchor="middle" fill="#111" textLength="8.2" lengthAdjust="spacingAndGlyphs" stroke="#111" stroke-width="0.14">11</text>
<line x1="341.8" y1="429.2" x2="341.8" y2="432" stroke="#000" stroke-width="1.2"/>
<text x="341.8" y="442" font-size="8" text-anchor="middle" fill="#111" textLength="8.2" lengthAdjust="spacingAndGlyphs" stroke="#111" stroke-width="0.14">12</text>
<line x1="310" y1="403.6" x2="310" y2="412.13" stroke="#111" stroke-width="1.1"/>
<line x1="308" y1="403.6" x2="312" y2="403.6" stroke="#111" stroke-width="1.1"/>
<line x1="308" y1="412.13" x2="312" y2="412.13" stroke="#111" stroke-width="1.1"/>
<line x1="320.6" y1="378.5" x2="320.6" y2="399.08" stroke="#111" stroke-width="1.1"/>
<line x1="318.6" y1="378.5" x2="322.6" y2="378.5" stroke="#111" stroke-width="1.1"/>
<line x1="318.6" y1="399.08" x2="322.6" y2="399.08" stroke="#111" stroke-width="1.1"/>
<line x1="331.2" y1="332.56" x2="331.2" y2="336.58" stroke="#111" stroke-width="1.1"/>
<line x1="329.2" y1="332.56" x2="333.2" y2="332.56" stroke="#111" stroke-width="1.1"/>
<line x1="329.2" y1="336.58" x2="333.2" y2="336.58" stroke="#111" stroke-width="1.1"/>
<polyline points="214.6,429.2 225.2,429.2 235.8,429.2 246.4,429.2 257,429.2 288.8,421.04 299.4,420.16 310,407.87 320.6,388.79 331.2,334.57" fill="none" stroke="#b00c36" stroke-width="1.3" stroke-linejoin="round"/>
<polygon points="214.6,427.16 216.63,429.2 214.6,431.24 212.56,429.2" fill="#b00c36"/>
<polygon points="225.2,427.16 227.23,429.2 225.2,431.24 223.16,429.2" fill="#b00c36"/>
<polygon points="235.8,427.16 237.83,429.2 235.8,431.24 233.76,429.2" fill="#b00c36"/>
<polygon points="246.4,427.16 248.43,429.2 246.4,431.24 244.36,429.2" fill="#b00c36"/>
<polygon points="257,427.16 259.04,429.2 257,431.24 254.97,429.2" fill="#b00c36"/>
<polygon points="288.8,419.01 290.84,421.04 288.8,423.08 286.76,421.04" fill="#b00c36"/>
<polygon points="299.4,418.13 301.44,420.16 299.4,422.2 297.36,420.16" fill="#b00c36"/>
<polygon points="310,405.83 312.04,407.87 310,409.9 307.96,407.87" fill="#b00c36"/>
<polygon points="320.6,386.75 322.64,388.79 320.6,390.82 318.56,388.79" fill="#b00c36"/>
<polygon points="331.2,332.54 333.24,334.57 331.2,336.61 329.16,334.57" fill="#b00c36"/>
<polyline points="214.6,429.2 225.2,429.2 235.8,429.2 246.4,429.2 257,429.2 288.8,427.44 299.4,426.94 310,425.69 320.6,425.06 331.2,422.05" fill="none" stroke="#2c4a8c" stroke-width="1.3" stroke-linejoin="round"/>
<polygon points="214.6,426.89 212.38,430.77 216.82,430.77" fill="#2c4a8c"/>
<polygon points="225.2,426.89 222.98,430.77 227.42,430.77" fill="#2c4a8c"/>
<polygon points="235.8,426.89 233.58,430.77 238.02,430.77" fill="#2c4a8c"/>
<polygon points="246.4,426.89 244.18,430.77 248.62,430.77" fill="#2c4a8c"/>
<polygon points="257,426.89 254.78,430.77 259.22,430.77" fill="#2c4a8c"/>
<polygon points="288.8,425.13 286.58,429.02 291.02,429.02" fill="#2c4a8c"/>
<polygon points="299.4,424.63 297.18,428.51 301.62,428.51" fill="#2c4a8c"/>
<polygon points="310,423.37 307.78,427.26 312.22,427.26" fill="#2c4a8c"/>
<polygon points="320.6,422.75 318.38,426.63 322.82,426.63" fill="#2c4a8c"/>
<polygon points="331.2,419.73 328.98,423.62 333.42,423.62" fill="#2c4a8c"/>
<polyline points="214.6,429.2 225.2,429.2 235.8,429.2 246.4,429.2 257,429.2 288.8,427.94 299.4,427.19 310,425.94 320.6,425.06 331.2,422.05" fill="none" stroke="#5fae3e" stroke-width="1.3" stroke-linejoin="round"/>
<polygon points="214.6,431.51 212.38,427.63 216.82,427.63" fill="#5fae3e"/>
<polygon points="225.2,431.51 222.98,427.63 227.42,427.63" fill="#5fae3e"/>
<polygon points="235.8,431.51 233.58,427.63 238.02,427.63" fill="#5fae3e"/>
<polygon points="246.4,431.51 244.18,427.63 248.62,427.63" fill="#5fae3e"/>
<polygon points="257,431.51 254.78,427.63 259.22,427.63" fill="#5fae3e"/>
<polygon points="288.8,430.26 286.58,426.37 291.02,426.37" fill="#5fae3e"/>
<polygon points="299.4,429.5 297.18,425.62 301.62,425.62" fill="#5fae3e"/>
<polygon points="310,428.25 307.78,424.36 312.22,424.36" fill="#5fae3e"/>
<polygon points="320.6,427.37 318.38,423.49 322.82,423.49" fill="#5fae3e"/>
<polygon points="331.2,424.36 328.98,420.47 333.42,420.47" fill="#5fae3e"/>
<polyline points="214.6,429.2 225.2,429.2 235.8,429.2 246.4,429.2 257,429.2 288.8,427.94 299.4,426.94 310,425.69 320.6,425.06 331.2,422.05" fill="none" stroke="#532872" stroke-width="1.3" stroke-linejoin="round"/>
<circle cx="214.6" cy="429.2" r="1.85" fill="#532872"/>
<circle cx="225.2" cy="429.2" r="1.85" fill="#532872"/>
<circle cx="235.8" cy="429.2" r="1.85" fill="#532872"/>
<circle cx="246.4" cy="429.2" r="1.85" fill="#532872"/>
<circle cx="257" cy="429.2" r="1.85" fill="#532872"/>
<circle cx="288.8" cy="427.94" r="1.85" fill="#532872"/>
<circle cx="299.4" cy="426.94" r="1.85" fill="#532872"/>
<circle cx="310" cy="425.69" r="1.85" fill="#532872"/>
<circle cx="320.6" cy="425.06" r="1.85" fill="#532872"/>
<circle cx="331.2" cy="422.05" r="1.85" fill="#532872"/>
<line x1="231.5" y1="324.4" x2="245.3" y2="324.4" stroke="#b00c36" stroke-width="1.3"/>
<polygon points="238.4,322.31 240.49,324.4 238.4,326.49 236.31,324.4" fill="#b00c36"/>
<text x="249" y="326.5" font-size="6.2" fill="#111" textLength="40" lengthAdjust="spacingAndGlyphs" stroke="#111" stroke-width="0.14">Control shRNA</text>
<line x1="231.5" y1="334.1" x2="245.3" y2="334.1" stroke="#2c4a8c" stroke-width="1.3"/>
<polygon points="238.4,331.73 236.12,335.72 240.68,335.72" fill="#2c4a8c"/>
<text x="249" y="336.2" font-size="6.2" fill="#111" textLength="43" lengthAdjust="spacingAndGlyphs" stroke="#111" stroke-width="0.14">MTCH2 shRNA1</text>
<line x1="231.5" y1="343.8" x2="245.3" y2="343.8" stroke="#5fae3e" stroke-width="1.3"/>
<polygon points="238.4,346.18 236.12,342.19 240.68,342.19" fill="#5fae3e"/>
<text x="249" y="345.9" font-size="6.2" fill="#111" textLength="43" lengthAdjust="spacingAndGlyphs" stroke="#111" stroke-width="0.14">MTCH2 shRNA2</text>
<line x1="231.5" y1="353.5" x2="245.3" y2="353.5" stroke="#532872" stroke-width="1.3"/>
<circle cx="238.4" cy="353.5" r="1.9" fill="#532872"/>
<text x="249" y="355.6" font-size="6.2" fill="#111" textLength="43" lengthAdjust="spacingAndGlyphs" stroke="#111" stroke-width="0.14">MTCH2 shRNA3</text>
<text x="280" y="455.2" font-size="9" text-anchor="middle" fill="#111" textLength="37" lengthAdjust="spacingAndGlyphs" stroke="#111" stroke-width="0.14">Time (days)</text>
<text x="187.2" y="363" font-size="9.1" text-anchor="middle" fill="#111" stroke="#111" stroke-width="0.12" transform="rotate(-90 187.2 363)" textLength="62" lengthAdjust="spacingAndGlyphs">Viable cells (x 10<tspan font-size="5.5" dy="-3.5">7</tspan><tspan dy="3.5">)</tspan></text>
<line x1="214.6" y1="590.9" x2="214.6" y2="459.8" stroke="#000" stroke-width="1.35"/>
<line x1="214" y1="590.2" x2="344.7" y2="590.2" stroke="#000" stroke-width="1.6"/>
<line x1="211" y1="590.2" x2="214.6" y2="590.2" stroke="#000" stroke-width="1.1"/>
<text x="208.1" y="592.3" font-size="8" text-anchor="end" fill="#111" textLength="4.1" lengthAdjust="spacingAndGlyphs" stroke="#111" stroke-width="0.14">0</text>
<line x1="211" y1="564.8" x2="214.6" y2="564.8" stroke="#000" stroke-width="1.1"/>
<text x="208.1" y="566.9" font-size="8" text-anchor="end" fill="#111" textLength="12.3" lengthAdjust="spacingAndGlyphs" stroke="#111" stroke-width="0.14">200</text>
<line x1="211" y1="539.4" x2="214.6" y2="539.4" stroke="#000" stroke-width="1.1"/>
<text x="208.1" y="541.5" font-size="8" text-anchor="end" fill="#111" textLength="12.3" lengthAdjust="spacingAndGlyphs" stroke="#111" stroke-width="0.14">400</text>
<line x1="211" y1="514" x2="214.6" y2="514" stroke="#000" stroke-width="1.1"/>
<text x="208.1" y="516.1" font-size="8" text-anchor="end" fill="#111" textLength="12.3" lengthAdjust="spacingAndGlyphs" stroke="#111" stroke-width="0.14">600</text>
<line x1="211" y1="488.6" x2="214.6" y2="488.6" stroke="#000" stroke-width="1.1"/>
<text x="208.1" y="490.7" font-size="8" text-anchor="end" fill="#111" textLength="12.3" lengthAdjust="spacingAndGlyphs" stroke="#111" stroke-width="0.14">800</text>
<line x1="211" y1="463.2" x2="214.6" y2="463.2" stroke="#000" stroke-width="1.1"/>
<text x="208.1" y="465.3" font-size="8" text-anchor="end" fill="#111" textLength="16.4" lengthAdjust="spacingAndGlyphs" stroke="#111" stroke-width="0.14">1000</text>
<line x1="214.6" y1="590.2" x2="214.6" y2="593" stroke="#000" stroke-width="1.2"/>
<text x="214.6" y="603" font-size="8" text-anchor="middle" fill="#111" textLength="4.1" lengthAdjust="spacingAndGlyphs" stroke="#111" stroke-width="0.14">0</text>
<line x1="225.25" y1="590.2" x2="225.25" y2="593" stroke="#000" stroke-width="1.2"/>
<text x="225.25" y="603" font-size="8" text-anchor="middle" fill="#111" textLength="4.1" lengthAdjust="spacingAndGlyphs" stroke="#111" stroke-width="0.14">1</text>
<line x1="235.9" y1="590.2" x2="235.9" y2="593" stroke="#000" stroke-width="1.2"/>
<text x="235.9" y="603" font-size="8" text-anchor="middle" fill="#111" textLength="4.1" lengthAdjust="spacingAndGlyphs" stroke="#111" stroke-width="0.14">2</text>
<line x1="246.55" y1="590.2" x2="246.55" y2="593" stroke="#000" stroke-width="1.2"/>
<text x="246.55" y="603" font-size="8" text-anchor="middle" fill="#111" textLength="4.1" lengthAdjust="spacingAndGlyphs" stroke="#111" stroke-width="0.14">3</text>
<line x1="257.2" y1="590.2" x2="257.2" y2="593" stroke="#000" stroke-width="1.2"/>
<text x="257.2" y="603" font-size="8" text-anchor="middle" fill="#111" textLength="4.1" lengthAdjust="spacingAndGlyphs" stroke="#111" stroke-width="0.14">4</text>
<line x1="267.85" y1="590.2" x2="267.85" y2="593" stroke="#000" stroke-width="1.2"/>
<text x="267.85" y="603" font-size="8" text-anchor="middle" fill="#111" textLength="4.1" lengthAdjust="spacingAndGlyphs" stroke="#111" stroke-width="0.14">5</text>
<line x1="278.5" y1="590.2" x2="278.5" y2="593" stroke="#000" stroke-width="1.2"/>
<text x="278.5" y="603" font-size="8" text-anchor="middle" fill="#111" textLength="4.1" lengthAdjust="spacingAndGlyphs" stroke="#111" stroke-width="0.14">6</text>
<line x1="289.15" y1="590.2" x2="289.15" y2="593" stroke="#000" stroke-width="1.2"/>
<text x="289.15" y="603" font-size="8" text-anchor="middle" fill="#111" textLength="4.1" lengthAdjust="spacingAndGlyphs" stroke="#111" stroke-width="0.14">7</text>
<line x1="299.8" y1="590.2" x2="299.8" y2="593" stroke="#000" stroke-width="1.2"/>
<text x="299.8" y="603" font-size="8" text-anchor="middle" fill="#111" textLength="4.1" lengthAdjust="spacingAndGlyphs" stroke="#111" stroke-width="0.14">8</text>
<line x1="310.45" y1="590.2" x2="310.45" y2="593" stroke="#000" stroke-width="1.2"/>
<text x="310.45" y="603" font-size="8" text-anchor="middle" fill="#111" textLength="4.1" lengthAdjust="spacingAndGlyphs" stroke="#111" stroke-width="0.14">9</text>
<line x1="321.1" y1="590.2" x2="321.1" y2="593" stroke="#000" stroke-width="1.2"/>
<text x="321.1" y="603" font-size="8" text-anchor="middle" fill="#111" textLength="8.2" lengthAdjust="spacingAndGlyphs" stroke="#111" stroke-width="0.14">10</text>
<line x1="331.75" y1="590.2" x2="331.75" y2="593" stroke="#000" stroke-width="1.2"/>
<text x="331.75" y="603" font-size="8" text-anchor="middle" fill="#111" textLength="8.2" lengthAdjust="spacingAndGlyphs" stroke="#111" stroke-width="0.14">11</text>
<line x1="342.4" y1="590.2" x2="342.4" y2="593" stroke="#000" stroke-width="1.2"/>
<text x="342.4" y="603" font-size="8" text-anchor="middle" fill="#111" textLength="8.2" lengthAdjust="spacingAndGlyphs" stroke="#111" stroke-width="0.14">12</text>
<line x1="310.45" y1="562.13" x2="310.45" y2="568.48" stroke="#111" stroke-width="1.1"/>
<line x1="308.45" y1="562.13" x2="312.45" y2="562.13" stroke="#111" stroke-width="1.1"/>
<line x1="308.45" y1="568.48" x2="312.45" y2="568.48" stroke="#111" stroke-width="1.1"/>
<line x1="321.1" y1="538.89" x2="321.1" y2="544.99" stroke="#111" stroke-width="1.1"/>
<line x1="319.1" y1="538.89" x2="323.1" y2="538.89" stroke="#111" stroke-width="1.1"/>
<line x1="319.1" y1="544.99" x2="323.1" y2="544.99" stroke="#111" stroke-width="1.1"/>
<line x1="331.75" y1="490.89" x2="331.75" y2="511.21" stroke="#111" stroke-width="1.1"/>
<line x1="329.75" y1="490.89" x2="333.75" y2="490.89" stroke="#111" stroke-width="1.1"/>
<line x1="329.75" y1="511.21" x2="333.75" y2="511.21" stroke="#111" stroke-width="1.1"/>
<polyline points="214.6,590.2 225.25,590.2 235.9,590.2 246.55,590.2 257.2,590.2 289.15,582.96 299.8,575.6 310.45,565.31 321.1,541.94 331.75,501.05" fill="none" stroke="#b00c36" stroke-width="1.3" stroke-linejoin="round"/>
<polygon points="214.6,588.17 216.63,590.2 214.6,592.24 212.56,590.2" fill="#b00c36"/>
<polygon points="225.25,588.17 227.28,590.2 225.25,592.24 223.22,590.2" fill="#b00c36"/>
<polygon points="235.9,588.17 237.94,590.2 235.9,592.24 233.87,590.2" fill="#b00c36"/>
<polygon points="246.55,588.17 248.59,590.2 246.55,592.24 244.52,590.2" fill="#b00c36"/>
<polygon points="257.2,588.17 259.24,590.2 257.2,592.24 255.16,590.2" fill="#b00c36"/>
<polygon points="289.15,580.93 291.19,582.96 289.15,585 287.11,582.96" fill="#b00c36"/>
<polygon points="299.8,573.56 301.84,575.6 299.8,577.63 297.76,575.6" fill="#b00c36"/>
<polygon points="310.45,563.27 312.49,565.31 310.45,567.34 308.41,565.31" fill="#b00c36"/>
<polygon points="321.1,539.91 323.14,541.94 321.1,543.98 319.06,541.94" fill="#b00c36"/>
<polygon points="331.75,499.01 333.79,501.05 331.75,503.08 329.71,501.05" fill="#b00c36"/>
<line x1="321.1" y1="564.67" x2="321.1" y2="570.26" stroke="#111" stroke-width="1.1"/>
<line x1="319.1" y1="564.67" x2="323.1" y2="564.67" stroke="#111" stroke-width="1.1"/>
<line x1="319.1" y1="570.26" x2="323.1" y2="570.26" stroke="#111" stroke-width="1.1"/>
<polyline points="214.6,590.2 225.25,590.2 235.9,590.2 246.55,590.2 257.2,590.2 289.15,585.25 299.8,582.45 310.45,574.83 321.1,567.47 331.75,566.58" fill="none" stroke="#2c4a8c" stroke-width="1.3" stroke-linejoin="round"/>
<polygon points="214.6,587.89 212.38,591.77 216.82,591.77" fill="#2c4a8c"/>
<polygon points="225.25,587.89 223.03,591.77 227.47,591.77" fill="#2c4a8c"/>
<polygon points="235.9,587.89 233.68,591.77 238.12,591.77" fill="#2c4a8c"/>
<polygon points="246.55,587.89 244.33,591.77 248.77,591.77" fill="#2c4a8c"/>
<polygon points="257.2,587.89 254.98,591.77 259.42,591.77" fill="#2c4a8c"/>
<polygon points="289.15,582.93 286.93,586.82 291.37,586.82" fill="#2c4a8c"/>
<polygon points="299.8,580.14 297.58,584.03 302.02,584.03" fill="#2c4a8c"/>
<polygon points="310.45,572.52 308.23,576.41 312.67,576.41" fill="#2c4a8c"/>
<polygon points="321.1,565.15 318.88,569.04 323.32,569.04" fill="#2c4a8c"/>
<polygon points="331.75,564.27 329.53,568.15 333.97,568.15" fill="#2c4a8c"/>
<polyline points="214.6,590.2 225.25,590.2 235.9,590.2 246.55,590.2 257.2,590.2 289.15,587.03 299.8,586.01 310.45,582.96 321.1,574.45 331.75,565.31" fill="none" stroke="#5fae3e" stroke-width="1.3" stroke-linejoin="round"/>
<polygon points="214.6,592.51 212.38,588.63 216.82,588.63" fill="#5fae3e"/>
<polygon points="225.25,592.51 223.03,588.63 227.47,588.63" fill="#5fae3e"/>
<polygon points="235.9,592.51 233.68,588.63 238.12,588.63" fill="#5fae3e"/>
<polygon points="246.55,592.51 244.33,588.63 248.77,588.63" fill="#5fae3e"/>
<polygon points="257.2,592.51 254.98,588.63 259.42,588.63" fill="#5fae3e"/>
<polygon points="289.15,589.34 286.93,585.45 291.37,585.45" fill="#5fae3e"/>
<polygon points="299.8,588.32 297.58,584.44 302.02,584.44" fill="#5fae3e"/>
<polygon points="310.45,585.27 308.23,581.39 312.67,581.39" fill="#5fae3e"/>
<polygon points="321.1,576.76 318.88,572.88 323.32,572.88" fill="#5fae3e"/>
<polygon points="331.75,567.62 329.53,563.74 333.97,563.74" fill="#5fae3e"/>
<line x1="331.75" y1="557.43" x2="331.75" y2="563.02" stroke="#111" stroke-width="1.1"/>
<line x1="329.75" y1="557.43" x2="333.75" y2="557.43" stroke="#111" stroke-width="1.1"/>
<line x1="329.75" y1="563.02" x2="333.75" y2="563.02" stroke="#111" stroke-width="1.1"/>
<polyline points="214.6,590.2 225.25,590.2 235.9,590.2 246.55,590.2 257.2,590.2 289.15,587.53 299.8,585.75 310.45,581.69 321.1,572.55 331.75,560.23" fill="none" stroke="#532872" stroke-width="1.3" stroke-linejoin="round"/>
<circle cx="214.6" cy="590.2" r="1.85" fill="#532872"/>
<circle cx="225.25" cy="590.2" r="1.85" fill="#532872"/>
<circle cx="235.9" cy="590.2" r="1.85" fill="#532872"/>
<circle cx="246.55" cy="590.2" r="1.85" fill="#532872"/>
<circle cx="257.2" cy="590.2" r="1.85" fill="#532872"/>
<circle cx="289.15" cy="587.53" r="1.85" fill="#532872"/>
<circle cx="299.8" cy="585.75" r="1.85" fill="#532872"/>
<circle cx="310.45" cy="581.69" r="1.85" fill="#532872"/>
<circle cx="321.1" cy="572.55" r="1.85" fill="#532872"/>
<circle cx="331.75" cy="560.23" r="1.85" fill="#532872"/>
<line x1="229.7" y1="475.2" x2="243.6" y2="475.2" stroke="#b00c36" stroke-width="1.3"/>
<polygon points="236.65,473.11 238.74,475.2 236.65,477.29 234.56,475.2" fill="#b00c36"/>
<text x="247" y="477.3" font-size="6.2" fill="#111" textLength="40" lengthAdjust="spacingAndGlyphs" stroke="#111" stroke-width="0.14">Control shRNA</text>
<line x1="229.7" y1="485.3" x2="243.6" y2="485.3" stroke="#2c4a8c" stroke-width="1.3"/>
<polygon points="236.65,482.93 234.37,486.92 238.93,486.92" fill="#2c4a8c"/>
<text x="247" y="487.4" font-size="6.2" fill="#111" textLength="43" lengthAdjust="spacingAndGlyphs" stroke="#111" stroke-width="0.14">MTCH2 shRNA1</text>
<line x1="229.7" y1="494.8" x2="243.6" y2="494.8" stroke="#5fae3e" stroke-width="1.3"/>
<polygon points="236.65,497.18 234.37,493.19 238.93,493.19" fill="#5fae3e"/>
<text x="247" y="496.9" font-size="6.2" fill="#111" textLength="43" lengthAdjust="spacingAndGlyphs" stroke="#111" stroke-width="0.14">MTCH2 shRNA2</text>
<line x1="229.7" y1="504.3" x2="243.6" y2="504.3" stroke="#532872" stroke-width="1.3"/>
<circle cx="236.65" cy="504.3" r="1.9" fill="#532872"/>
<text x="247" y="506.4" font-size="6.2" fill="#111" textLength="43" lengthAdjust="spacingAndGlyphs" stroke="#111" stroke-width="0.14">MTCH2 shRNA3</text>
<text x="280" y="615.2" font-size="9" text-anchor="middle" fill="#111" textLength="37" lengthAdjust="spacingAndGlyphs" stroke="#111" stroke-width="0.14">Time (days)</text>
<text x="187.2" y="524" font-size="9.1" text-anchor="middle" fill="#111" stroke="#111" stroke-width="0.12" transform="rotate(-90 187.2 524)" textLength="62" lengthAdjust="spacingAndGlyphs">Viable cells (x 10<tspan font-size="5.5" dy="-3.5">7</tspan><tspan dy="3.5">)</tspan></text>
<line x1="393.8" y1="233.9" x2="393.8" y2="165.2" stroke="#000" stroke-width="1.35"/>
<line x1="393.2" y1="233.2" x2="491.2" y2="233.2" stroke="#000" stroke-width="1.6"/>
<line x1="390.5" y1="233.2" x2="393.8" y2="233.2" stroke="#000" stroke-width="1.1"/>
<text x="387.3" y="235.3" font-size="8" text-anchor="end" fill="#111" textLength="4.1" lengthAdjust="spacingAndGlyphs" stroke="#111" stroke-width="0.14">0</text>
<line x1="390.5" y1="220.14" x2="393.8" y2="220.14" stroke="#000" stroke-width="1.1"/>
<text x="387.3" y="222.24" font-size="8" text-anchor="end" fill="#111" textLength="8.2" lengthAdjust="spacingAndGlyphs" stroke="#111" stroke-width="0.14">50</text>
<line x1="390.5" y1="207.08" x2="393.8" y2="207.08" stroke="#000" stroke-width="1.1"/>
<text x="387.3" y="209.18" font-size="8" text-anchor="end" fill="#111" textLength="12.3" lengthAdjust="spacingAndGlyphs" stroke="#111" stroke-width="0.14">100</text>
<line x1="390.5" y1="194.02" x2="393.8" y2="194.02" stroke="#000" stroke-width="1.1"/>
<text x="387.3" y="196.12" font-size="8" text-anchor="end" fill="#111" textLength="12.3" lengthAdjust="spacingAndGlyphs" stroke="#111" stroke-width="0.14">150</text>
<line x1="390.5" y1="180.96" x2="393.8" y2="180.96" stroke="#000" stroke-width="1.1"/>
<text x="387.3" y="183.06" font-size="8" text-anchor="end" fill="#111" textLength="12.3" lengthAdjust="spacingAndGlyphs" stroke="#111" stroke-width="0.14">200</text>
<line x1="390.5" y1="167.9" x2="393.8" y2="167.9" stroke="#000" stroke-width="1.1"/>
<text x="387.3" y="170" font-size="8" text-anchor="end" fill="#111" textLength="12.3" lengthAdjust="spacingAndGlyphs" stroke="#111" stroke-width="0.14">250</text>
<line x1="405.8" y1="174.17" x2="405.8" y2="179.65" stroke="#222" stroke-width="1"/>
<line x1="402" y1="174.17" x2="409.6" y2="174.17" stroke="#222" stroke-width="1"/>
<rect x="397.8" y="179.65" width="16" height="53.55" fill="#a5002b"/>
<line x1="405.8" y1="233.2" x2="405.8" y2="236" stroke="#000" stroke-width="1.2"/>
<line x1="430" y1="206.56" x2="430" y2="210.21" stroke="#222" stroke-width="1"/>
<line x1="426.2" y1="206.56" x2="433.8" y2="206.56" stroke="#222" stroke-width="1"/>
<rect x="422" y="210.21" width="16" height="22.99" fill="#2c4a80"/>
<line x1="430" y1="233.2" x2="430" y2="236" stroke="#000" stroke-width="1.2"/>
<line x1="454" y1="208.39" x2="454" y2="212.3" stroke="#222" stroke-width="1"/>
<line x1="450.2" y1="208.39" x2="457.8" y2="208.39" stroke="#222" stroke-width="1"/>
<rect x="446" y="212.3" width="16" height="20.9" fill="#66a33c"/>
<line x1="454" y1="233.2" x2="454" y2="236" stroke="#000" stroke-width="1.2"/>
<line x1="478.2" y1="202.9" x2="478.2" y2="211" stroke="#222" stroke-width="1"/>
<line x1="474.4" y1="202.9" x2="482" y2="202.9" stroke="#222" stroke-width="1"/>
<rect x="470.2" y="211" width="16" height="22.2" fill="#4f2463"/>
<line x1="478.2" y1="233.2" x2="478.2" y2="236" stroke="#000" stroke-width="1.2"/>
<text x="430" y="200.6" font-size="7" text-anchor="middle" fill="#111" stroke="#111" stroke-width="0.14">***</text>
<text x="454" y="203.8" font-size="7" text-anchor="middle" fill="#111" stroke="#111" stroke-width="0.14">***</text>
<text x="478.2" y="199.3" font-size="7" text-anchor="middle" fill="#111" stroke="#111" stroke-width="0.14">***</text>
<text x="408.9" y="242.9" font-size="7.2" text-anchor="end" fill="#111" transform="rotate(-45 408.9 242.9)" textLength="48" lengthAdjust="spacingAndGlyphs" stroke="#111" stroke-width="0.15">Control shRNA</text>
<text x="433.1" y="242.9" font-size="7.2" text-anchor="end" fill="#111" transform="rotate(-45 433.1 242.9)" textLength="52" lengthAdjust="spacingAndGlyphs" stroke="#111" stroke-width="0.15">MTCH2 shRNA1</text>
<text x="457.1" y="242.9" font-size="7.2" text-anchor="end" fill="#111" transform="rotate(-45 457.1 242.9)" textLength="52" lengthAdjust="spacingAndGlyphs" stroke="#111" stroke-width="0.15">MTCH2 shRNA2</text>
<text x="481.3" y="242.9" font-size="7.2" text-anchor="end" fill="#111" transform="rotate(-45 481.3 242.9)" textLength="52" lengthAdjust="spacingAndGlyphs" stroke="#111" stroke-width="0.15">MTCH2 shRNA3</text>
<text x="368.8" y="199.3" font-size="8.6" text-anchor="middle" fill="#111" transform="rotate(-90 368.8 199.3)" textLength="33" lengthAdjust="spacingAndGlyphs" stroke="#111" stroke-width="0.14"># colonies</text>
<line x1="393.8" y1="391.9" x2="393.8" y2="319.8" stroke="#000" stroke-width="1.35"/>
<line x1="393.2" y1="391.2" x2="496.5" y2="391.2" stroke="#000" stroke-width="1.6"/>
<line x1="390.5" y1="391.2" x2="393.8" y2="391.2" stroke="#000" stroke-width="1.1"/>
<text x="387.3" y="393.3" font-size="8" text-anchor="end" fill="#111" textLength="4.1" lengthAdjust="spacingAndGlyphs" stroke="#111" stroke-width="0.14">0</text>
<line x1="390.5" y1="374" x2="393.8" y2="374" stroke="#000" stroke-width="1.1"/>
<text x="387.3" y="376.1" font-size="8" text-anchor="end" fill="#111" textLength="12.3" lengthAdjust="spacingAndGlyphs" stroke="#111" stroke-width="0.14">100</text>
<line x1="390.5" y1="356.8" x2="393.8" y2="356.8" stroke="#000" stroke-width="1.1"/>
<text x="387.3" y="358.9" font-size="8" text-anchor="end" fill="#111" textLength="12.3" lengthAdjust="spacingAndGlyphs" stroke="#111" stroke-width="0.14">200</text>
<line x1="390.5" y1="339.6" x2="393.8" y2="339.6" stroke="#000" stroke-width="1.1"/>
<text x="387.3" y="341.7" font-size="8" text-anchor="end" fill="#111" textLength="12.3" lengthAdjust="spacingAndGlyphs" stroke="#111" stroke-width="0.14">300</text>
<line x1="390.5" y1="322.4" x2="393.8" y2="322.4" stroke="#000" stroke-width="1.1"/>
<text x="387.3" y="324.5" font-size="8" text-anchor="end" fill="#111" textLength="12.3" lengthAdjust="spacingAndGlyphs" stroke="#111" stroke-width="0.14">400</text>
<line x1="406.5" y1="340.29" x2="406.5" y2="343.38" stroke="#222" stroke-width="1"/>
<line x1="402.7" y1="340.29" x2="410.3" y2="340.29" stroke="#222" stroke-width="1"/>
<rect x="398" y="343.38" width="17" height="47.82" fill="#a5002b"/>
<line x1="406.5" y1="391.2" x2="406.5" y2="394" stroke="#000" stroke-width="1.2"/>
<line x1="432.1" y1="372.28" x2="432.1" y2="376.24" stroke="#222" stroke-width="1"/>
<line x1="428.3" y1="372.28" x2="435.9" y2="372.28" stroke="#222" stroke-width="1"/>
<rect x="423.6" y="376.24" width="17" height="14.96" fill="#2c4a80"/>
<line x1="432.1" y1="391.2" x2="432.1" y2="394" stroke="#000" stroke-width="1.2"/>
<line x1="457.7" y1="380.54" x2="457.7" y2="382.43" stroke="#222" stroke-width="1"/>
<line x1="453.9" y1="380.54" x2="461.5" y2="380.54" stroke="#222" stroke-width="1"/>
<rect x="449.2" y="382.43" width="17" height="8.77" fill="#66a33c"/>
<line x1="457.7" y1="391.2" x2="457.7" y2="394" stroke="#000" stroke-width="1.2"/>
<line x1="483.4" y1="378.13" x2="483.4" y2="381.05" stroke="#222" stroke-width="1"/>
<line x1="479.6" y1="378.13" x2="487.2" y2="378.13" stroke="#222" stroke-width="1"/>
<rect x="474.9" y="381.05" width="17" height="10.15" fill="#4f2463"/>
<line x1="483.4" y1="391.2" x2="483.4" y2="394" stroke="#000" stroke-width="1.2"/>
<text x="432.1" y="366.6" font-size="7" text-anchor="middle" fill="#111" stroke="#111" stroke-width="0.14">****</text>
<text x="457.7" y="374.1" font-size="7" text-anchor="middle" fill="#111" stroke="#111" stroke-width="0.14">****</text>
<text x="483.4" y="374.1" font-size="7" text-anchor="middle" fill="#111" stroke="#111" stroke-width="0.14">****</text>
<text x="409.6" y="401.4" font-size="7.2" text-anchor="end" fill="#111" transform="rotate(-45 409.6 401.4)" textLength="48" lengthAdjust="spacingAndGlyphs" stroke="#111" stroke-width="0.15">Control shRNA</text>
<text x="435.2" y="401.4" font-size="7.2" text-anchor="end" fill="#111" transform="rotate(-45 435.2 401.4)" textLength="52" lengthAdjust="spacingAndGlyphs" stroke="#111" stroke-width="0.15">MTCH2 shRNA1</text>
<text x="460.8" y="401.4" font-size="7.2" text-anchor="end" fill="#111" transform="rotate(-45 460.8 401.4)" textLength="52" lengthAdjust="spacingAndGlyphs" stroke="#111" stroke-width="0.15">MTCH2 shRNA2</text>
<text x="486.5" y="401.4" font-size="7.2" text-anchor="end" fill="#111" transform="rotate(-45 486.5 401.4)" textLength="52" lengthAdjust="spacingAndGlyphs" stroke="#111" stroke-width="0.15">MTCH2 shRNA3</text>
<text x="368.8" y="355.6" font-size="8.6" text-anchor="middle" fill="#111" transform="rotate(-90 368.8 355.6)" textLength="33" lengthAdjust="spacingAndGlyphs" stroke="#111" stroke-width="0.14"># colonies</text>
<line x1="393.8" y1="551.6" x2="393.8" y2="483.5" stroke="#000" stroke-width="1.35"/>
<line x1="393.2" y1="550.9" x2="491.2" y2="550.9" stroke="#000" stroke-width="1.6"/>
<line x1="390.5" y1="550.9" x2="393.8" y2="550.9" stroke="#000" stroke-width="1.1"/>
<text x="387.3" y="553" font-size="8" text-anchor="end" fill="#111" textLength="4.1" lengthAdjust="spacingAndGlyphs" stroke="#111" stroke-width="0.14">0</text>
<line x1="390.5" y1="529.53" x2="393.8" y2="529.53" stroke="#000" stroke-width="1.1"/>
<text x="387.3" y="531.63" font-size="8" text-anchor="end" fill="#111" textLength="12.3" lengthAdjust="spacingAndGlyphs" stroke="#111" stroke-width="0.14">100</text>
<line x1="390.5" y1="508.17" x2="393.8" y2="508.17" stroke="#000" stroke-width="1.1"/>
<text x="387.3" y="510.27" font-size="8" text-anchor="end" fill="#111" textLength="12.3" lengthAdjust="spacingAndGlyphs" stroke="#111" stroke-width="0.14">200</text>
<line x1="390.5" y1="486.8" x2="393.8" y2="486.8" stroke="#000" stroke-width="1.1"/>
<text x="387.3" y="488.9" font-size="8" text-anchor="end" fill="#111" textLength="12.3" lengthAdjust="spacingAndGlyphs" stroke="#111" stroke-width="0.14">300</text>
<line x1="405.6" y1="494.28" x2="405.6" y2="497.06" stroke="#222" stroke-width="1"/>
<line x1="401.8" y1="494.28" x2="409.4" y2="494.28" stroke="#222" stroke-width="1"/>
<rect x="397.7" y="497.06" width="15.8" height="53.84" fill="#a5002b"/>
<line x1="405.6" y1="550.9" x2="405.6" y2="553.7" stroke="#000" stroke-width="1.2"/>
<line x1="429.8" y1="510.52" x2="429.8" y2="522.48" stroke="#222" stroke-width="1"/>
<line x1="426" y1="510.52" x2="433.6" y2="510.52" stroke="#222" stroke-width="1"/>
<rect x="421.9" y="522.48" width="15.8" height="28.42" fill="#2c4a80"/>
<line x1="429.8" y1="550.9" x2="429.8" y2="553.7" stroke="#000" stroke-width="1.2"/>
<line x1="453.9" y1="518" x2="453.9" y2="521.84" stroke="#222" stroke-width="1"/>
<line x1="450.1" y1="518" x2="457.7" y2="518" stroke="#222" stroke-width="1"/>
<rect x="446" y="521.84" width="15.8" height="29.06" fill="#66a33c"/>
<line x1="453.9" y1="550.9" x2="453.9" y2="553.7" stroke="#000" stroke-width="1.2"/>
<line x1="478.1" y1="513.72" x2="478.1" y2="523.98" stroke="#222" stroke-width="1"/>
<line x1="474.3" y1="513.72" x2="481.9" y2="513.72" stroke="#222" stroke-width="1"/>
<rect x="470.2" y="523.98" width="15.8" height="26.92" fill="#4f2463"/>
<line x1="478.1" y1="550.9" x2="478.1" y2="553.7" stroke="#000" stroke-width="1.2"/>
<text x="429.8" y="509.5" font-size="7" text-anchor="middle" fill="#111" stroke="#111" stroke-width="0.14">*</text>
<text x="453.9" y="511.7" font-size="7" text-anchor="middle" fill="#111" stroke="#111" stroke-width="0.14">*</text>
<text x="478.1" y="508.5" font-size="7" text-anchor="middle" fill="#111" stroke="#111" stroke-width="0.14">*</text>
<text x="408.7" y="561.4" font-size="7.2" text-anchor="end" fill="#111" transform="rotate(-45 408.7 561.4)" textLength="48" lengthAdjust="spacingAndGlyphs" stroke="#111" stroke-width="0.15">Control shRNA</text>
<text x="432.9" y="561.4" font-size="7.2" text-anchor="end" fill="#111" transform="rotate(-45 432.9 561.4)" textLength="52" lengthAdjust="spacingAndGlyphs" stroke="#111" stroke-width="0.15">MTCH2 shRNA1</text>
<text x="457" y="561.4" font-size="7.2" text-anchor="end" fill="#111" transform="rotate(-45 457 561.4)" textLength="52" lengthAdjust="spacingAndGlyphs" stroke="#111" stroke-width="0.15">MTCH2 shRNA2</text>
<text x="481.2" y="561.4" font-size="7.2" text-anchor="end" fill="#111" transform="rotate(-45 481.2 561.4)" textLength="52" lengthAdjust="spacingAndGlyphs" stroke="#111" stroke-width="0.15">MTCH2 shRNA3</text>
<text x="368.8" y="516.9" font-size="8.6" text-anchor="middle" fill="#111" transform="rotate(-90 368.8 516.9)" textLength="33" lengthAdjust="spacingAndGlyphs" stroke="#111" stroke-width="0.14"># colonies</text>
<line x1="51.7" y1="733.1" x2="51.7" y2="639.4" stroke="#000" stroke-width="1.3"/>
<line x1="51.1" y1="732.6" x2="189.6" y2="732.6" stroke="#000" stroke-width="1.5"/>
<line x1="48.4" y1="732.4" x2="51.7" y2="732.4" stroke="#000" stroke-width="1.1"/>
<text x="45.2" y="734.5" font-size="8" text-anchor="end" fill="#111" textLength="4.1" lengthAdjust="spacingAndGlyphs" stroke="#111" stroke-width="0.14">0</text>
<line x1="48.4" y1="690" x2="51.7" y2="690" stroke="#000" stroke-width="1.1"/>
<text x="45.2" y="692.1" font-size="8" text-anchor="end" fill="#111" textLength="8.2" lengthAdjust="spacingAndGlyphs" stroke="#111" stroke-width="0.14">50</text>
<line x1="48.4" y1="647.5" x2="51.7" y2="647.5" stroke="#000" stroke-width="1.1"/>
<text x="45.2" y="649.6" font-size="8" text-anchor="end" fill="#111" textLength="12.3" lengthAdjust="spacingAndGlyphs" stroke="#111" stroke-width="0.14">100</text>
<line x1="59.7" y1="732.6" x2="59.7" y2="735.5" stroke="#000" stroke-width="1.2"/>
<text x="59.7" y="745.6" font-size="8" text-anchor="middle" fill="#111" textLength="8.2" lengthAdjust="spacingAndGlyphs" stroke="#111" stroke-width="0.14">50</text>
<line x1="102.6" y1="732.6" x2="102.6" y2="735.5" stroke="#000" stroke-width="1.2"/>
<text x="102.6" y="745.6" font-size="8" text-anchor="middle" fill="#111" textLength="12.3" lengthAdjust="spacingAndGlyphs" stroke="#111" stroke-width="0.14">100</text>
<line x1="145.8" y1="732.6" x2="145.8" y2="735.5" stroke="#000" stroke-width="1.2"/>
<text x="145.8" y="745.6" font-size="8" text-anchor="middle" fill="#111" textLength="12.3" lengthAdjust="spacingAndGlyphs" stroke="#111" stroke-width="0.14">150</text>
<line x1="186.8" y1="732.6" x2="186.8" y2="735.5" stroke="#000" stroke-width="1.2"/>
<text x="186.8" y="745.6" font-size="8" text-anchor="middle" fill="#111" textLength="12.3" lengthAdjust="spacingAndGlyphs" stroke="#111" stroke-width="0.14">200</text>
<text x="121" y="758.4" font-size="8.6" text-anchor="middle" fill="#111" textLength="66" lengthAdjust="spacingAndGlyphs" stroke="#111" stroke-width="0.14">Days post transplant</text>
<text x="26" y="685.6" font-size="8.6" text-anchor="middle" fill="#111" transform="rotate(-90 26 685.6)" textLength="40.4" lengthAdjust="spacingAndGlyphs" stroke="#111" stroke-width="0.14">Survival (%)</text>
<polyline points="66.5,647.5 66.5,653.4 72.8,653.4 72.8,665.6 74,665.6 74,671.8 80.6,671.8 80.6,677.6 82.6,677.6 82.6,696.3 83.4,696.3 83.4,702.1 85.2,702.1 85.2,708.3 86.8,708.3 86.8,714.2 96.9,714.2 96.9,720.5 98,720.5 98,726.7 99,726.7 99,732.4" fill="none" stroke="#243f80" stroke-width="1.4"/>
<line x1="51.7" y1="647.4" x2="156.6" y2="647.4" stroke="#b00c36" stroke-width="1.5"/>
<line x1="156.4" y1="647.4" x2="156.4" y2="645.4" stroke="#000" stroke-width="0.8"/>
<line x1="105.2" y1="663.8" x2="115.4" y2="663.8" stroke="#2c4a8c" stroke-width="1.2"/>
<line x1="110.3" y1="663.8" x2="110.3" y2="661.8" stroke="#000" stroke-width="0.8"/>
<line x1="105.2" y1="673.4" x2="115.4" y2="673.4" stroke="#b00c36" stroke-width="1.2"/>
<line x1="110.3" y1="673.4" x2="110.3" y2="671.4" stroke="#000" stroke-width="0.8"/>
<text x="118.6" y="666" font-size="6" fill="#111" textLength="19.5" lengthAdjust="spacingAndGlyphs" stroke="#111" stroke-width="0.14">MTCH2</text>
<text x="139.9" y="663.3" font-size="3.4" fill="#111" stroke="#111" stroke-width="0.14">F/F</text>
<text x="147.5" y="666" font-size="6" fill="#111" textLength="17.6" lengthAdjust="spacingAndGlyphs" stroke="#111" stroke-width="0.14">(n=10)</text>
<text x="118.6" y="675.6" font-size="6" fill="#111" textLength="19.5" lengthAdjust="spacingAndGlyphs" stroke="#111" stroke-width="0.14">MTCH2</text>
<text x="139.9" y="672.9" font-size="3.4" fill="#111" stroke="#111" stroke-width="0.14">F/F</text>
<text x="147.5" y="675.6" font-size="6" fill="#111" textLength="43.6" lengthAdjust="spacingAndGlyphs" stroke="#111" stroke-width="0.14">VAV1 cre+ (n=7)</text>
<text x="119" y="695.7" font-size="6" fill="#111" textLength="25.6" lengthAdjust="spacingAndGlyphs" stroke="#111" stroke-width="0.14">p&lt;0.0001</text>
<line x1="250.6" y1="733.1" x2="250.6" y2="628.8" stroke="#222" stroke-width="1.3"/>
<line x1="250" y1="732.6" x2="406.8" y2="732.6" stroke="#222" stroke-width="1.5"/>
<line x1="247.3" y1="732.4" x2="250.6" y2="732.4" stroke="#222" stroke-width="1.1"/>
<text x="243.6" y="735" font-size="7.3" text-anchor="end" fill="#111" stroke="#111" stroke-width="0.14">0</text>
<line x1="247.3" y1="698.9" x2="250.6" y2="698.9" stroke="#222" stroke-width="1.1"/>
<text x="243.6" y="701.5" font-size="7.3" text-anchor="end" fill="#111" stroke="#111" stroke-width="0.14">5</text>
<line x1="247.3" y1="665.3" x2="250.6" y2="665.3" stroke="#222" stroke-width="1.1"/>
<text x="243.6" y="667.9" font-size="7.3" text-anchor="end" fill="#111" stroke="#111" stroke-width="0.14">10</text>
<line x1="247.3" y1="631.7" x2="250.6" y2="631.7" stroke="#222" stroke-width="1.1"/>
<text x="243.6" y="634.3" font-size="7.3" text-anchor="end" fill="#111" stroke="#111" stroke-width="0.14">15</text>
<line x1="289.5" y1="732.6" x2="289.5" y2="735.5" stroke="#222" stroke-width="1.2"/>
<line x1="367.4" y1="732.6" x2="367.4" y2="735.5" stroke="#222" stroke-width="1.2"/>
<text x="289.8" y="746" font-size="6.6" text-anchor="middle" fill="#111" textLength="45.7" lengthAdjust="spacingAndGlyphs" stroke="#111" stroke-width="0.14">control shRNA</text>
<text x="367" y="746" font-size="6.6" text-anchor="middle" fill="#111" textLength="52" lengthAdjust="spacingAndGlyphs" stroke="#111" stroke-width="0.14">MTCH2 shRNA2</text>
<text x="229.8" y="681" font-size="8.3" text-anchor="middle" fill="#111" transform="rotate(-90 229.8 681)" textLength="50.7" lengthAdjust="spacingAndGlyphs" stroke="#111" stroke-width="0.14">% GFP+CD45+</text>
<text x="260.5" y="637.6" font-size="10.4" fill="#111" textLength="136" lengthAdjust="spacingAndGlyphs">CD34+ enriched Cord blood</text>
<line x1="264.2" y1="691.6" x2="315.4" y2="691.6" stroke="#333" stroke-width="1.4"/>
<line x1="307.3" y1="659.6" x2="359.9" y2="659.6" stroke="#666" stroke-width="1.4"/>
<text x="336.2" y="657.2" font-size="6.8" text-anchor="middle" fill="#111" stroke="#111" stroke-width="0.14">NS</text>
<circle cx="289.4" cy="660" r="2" fill="#a5002b"/>
<circle cx="289.4" cy="684.7" r="2" fill="#a5002b"/>
<circle cx="289.4" cy="708.1" r="2" fill="#a5002b"/>
<circle cx="289.4" cy="715.1" r="2" fill="#a5002b"/>
<line x1="341.4" y1="708.9" x2="393.3" y2="708.9" stroke="#333" stroke-width="1.4"/>
<rect x="356.1" y="706.5" width="3.6" height="3.6" fill="#2c4a80"/>
<rect x="362.3" y="708.3" width="3.6" height="3.6" fill="#2c4a80"/>
<rect x="368.9" y="707.1" width="3.6" height="3.6" fill="#2c4a80"/>
<rect x="375.1" y="706.1" width="3.6" height="3.6" fill="#2c4a80"/>
<rect x="0" y="0" width="520" height="1.15" fill="#000"/>
<rect x="0" y="0" width="1.3" height="769" fill="#000"/>
<rect x="518.7" y="0" width="1.3" height="769" fill="#000"/>
<rect x="0" y="767.5" width="520" height="1.5" fill="#000"/>
</svg>
</body></html>
